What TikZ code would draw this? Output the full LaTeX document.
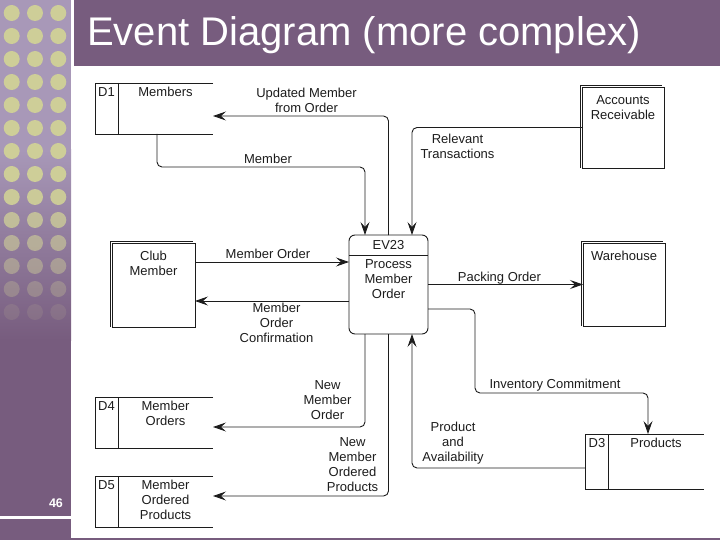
\documentclass[tikz,border=0pt]{standalone}
\usepackage{fontspec}
\setmainfont{Liberation Sans}
\usetikzlibrary{arrows.meta,calc,positioning}
\definecolor{SlidePurple}{RGB}{119,92,126}
\definecolor{StripLight}{RGB}{168,152,184}
\definecolor{DotGreen}{RGB}{206,206,152}
\definecolor{InkGray}{RGB}{28,28,28}
\tikzset{
  ink/.style={draw=InkGray,line width=.9pt},
  flow/.style={ink,rounded corners=5pt,-{Stealth[length=13pt,width=9pt,inset=5pt]}},
  lbl/.style={font=\fontsize{13}{15}\selectfont,text=InkGray,align=center,inner sep=0pt},
  store/.style={rectangle,inner sep=0pt,outer sep=0pt,minimum width=118pt},
  entity/.style={ink,rectangle,inner sep=0pt,outer sep=0pt},
  event/.style={ink,rectangle,rounded corners=6pt,inner sep=0pt,outer sep=0pt,
    minimum width=79pt,minimum height=99pt}
}

\begin{document}
\begin{tikzpicture}[x=1pt,y=-1pt]
  \useasboundingbox (0,0) rectangle (720,540);
  % slide frame
  \fill[StripLight] (0,0) rectangle (71,150);
  \shade[top color=StripLight,bottom color=SlidePurple] (0,150) rectangle (71,340);
  \fill[SlidePurple] (0,340) rectangle (71,540);
  \foreach \r in {0,...,13}{
    \pgfmathsetmacro\op{max(0.1,min(1,(330-(13+23*\r))/140))}
    \foreach \c in {11.7,35,58.3}
      \fill[DotGreen,opacity=\op] (\c,{13+23*\r}) circle (8pt);
  }
  \fill[white] (0,516) rectangle (71,519);
  \fill[SlidePurple] (71,537.5) rectangle (720,540);
  \fill[SlidePurple] (74,0) rectangle (720,66);
  \node[anchor=base west,text=white,inner sep=0pt,font=\fontsize{40}{48}\selectfont]
    (title) at (87,46) {Event Diagram (more complex)};
  \node[text=white,inner sep=0pt,font=\fontsize{12.5}{14}\selectfont\bfseries]
    (pgnum) at (56,503) {46};

  % data stores
  \foreach \n/\cx/\cy/\h/\id/\txt in {d1/154/108.5/51/D1/Members,
      d4/154/422.5/51/D4/{Member\\Orders},
      d5/154/501.5/51/D5/{Member\\Ordered\\Products},
      d3/644.5/461.5/55/D3/Products}{
    \node[store,minimum height=\h pt] (\n) at (\cx,\cy) {};
    \draw[ink] (\n.north east) -| (\n.south west) -- (\n.south east);
    \draw[ink] ([xshift=23pt]\n.north west) -- ([xshift=23pt]\n.south west);
    \node[lbl,anchor=north] (\n id) at ([xshift=11.5pt,yshift=-4pt]\n.north west) {\id};
    \node[lbl,anchor=north] (\n txt) at ([xshift=70.5pt,yshift=-4pt]\n.north west) {\txt};
  }

  % external entities
  \foreach \n/\cx/\cy/\w/\h/\txt in {club/153.5/285/83/84/{Club\\Member},
      wh/624/284.5/82/83/Warehouse,
      ar/623/127.5/82/81/{Accounts\\Receivable}}{
    \node[entity,minimum width=\w pt,minimum height=\h pt] (\n) at (\cx,\cy) {};
    \draw[ink] ([xshift=-2pt]\n.south west) -- ([xshift=-2pt,yshift=2pt]\n.north west)
      -- ([xshift=-2pt,yshift=2pt]\n.north east);
    \node[lbl,anchor=north] (\n txt) at ([yshift=-8pt]\n.north) {\txt};
  }

  % event
  \node[event] (ev) at (388.5,284.5) {};
  \draw[ink] ([yshift=-20pt]ev.north west) -- ([yshift=-20pt]ev.north east);
  \node[lbl,anchor=north] (evid) at ([yshift=-5.25pt]ev.north) {EV23};
  \node[lbl,anchor=north] (evtxt) at ([yshift=-24.25pt]ev.north) {Process\\Member\\Order};

  % flows
  \draw[flow] (ev.north) |- ([yshift=-7.5pt]d1.east);
  \draw[flow] ([xshift=3pt]d1.south) -- ++(0,33) -| ([xshift=-23.5pt]ev.north);
  \draw[flow] (ar.west) -| ([xshift=23.5pt]ev.north);
  \draw[flow] ([yshift=23pt]club.east) -- ([yshift=22.5pt]ev.west);
  \draw[flow] ([yshift=-16.5pt]ev.west) -- ([yshift=-16pt]club.east);
  \draw[flow] (ev.east) -- (wh.west);
  \coordinate (invbend) at (475,393);
  \draw[flow] ([yshift=-24.5pt]ev.east) -| (invbend) -| ([xshift=3.5pt]d3.north);
  \draw[flow] ([yshift=-6.5pt]d3.west) -| ([xshift=23.5pt]ev.south);
  \draw[flow] ([xshift=-23.5pt]ev.south) |- ([yshift=-4.5pt]d4.east);
  \draw[flow] (ev.south) |- ([yshift=5.5pt]d5.east);

  % flow labels
  \node[lbl] (lupd) at (306.5,100) {Updated Member\\from Order};
  \node[lbl] (lmem) at (268,159) {Member};
  \node[lbl] (lrel) at (457.5,146) {Relevant\\Transactions};
  \node[lbl] (lord) at (268,254) {Member Order};
  \node[lbl] (lconf) at (276.5,323) {Member\\Order\\Confirmation};
  \node[lbl] (lpack) at (499.5,278) {Packing Order};
  \node[lbl] (linv) at (555,385) {Inventory Commitment};
  \node[lbl] (lprod) at (453,443) {Product\\and\\Availability};
  \node[lbl] (lnmo) at (327.5,400) {New\\Member\\Order};
  \node[lbl] (lnmop) at (352.5,465) {New\\Member\\Ordered\\Products};
\end{tikzpicture}
\end{document}
